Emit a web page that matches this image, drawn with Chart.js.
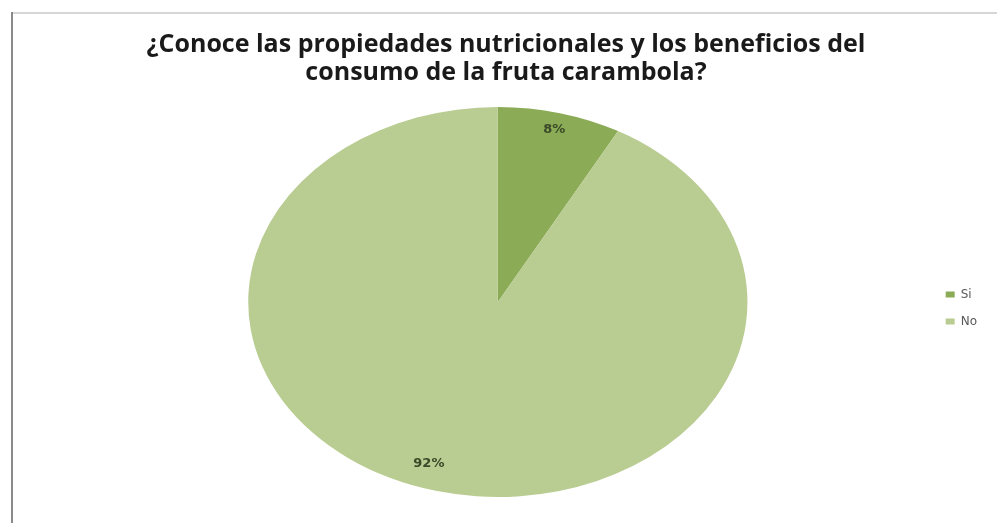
<!DOCTYPE html>
<html lang="es">
  <head>
    <meta charset="UTF-8" />
    <title>Carambola</title>
    <script src="https://cdn.jsdelivr.net/npm/chart.js"></script>
    <style>
      html, body { margin: 0; padding: 0; background: #ffffff; }
      #wrap { width: 997px; height: 523px; }
    </style>
  </head>
  <body>
    <div id="wrap"><canvas id="myChart"></canvas></div>
    <script>
      // datos
      const categorias = ["Si", "No"];
      const porcentajes = [8, 92];
      const colores = ["#8cab56", "#b9cc91"];
      const titulo = [
        "¿Conoce las propiedades nutricionales y los beneficios del",
        "consumo de la fruta carambola?",
      ];

      const stretchX = 1.28; // la torta de excel sale ovalada

      // marco gris del grafico original + pequeños corrimientos
      const marco = {
        id: "marco",
        afterLayout(chart) {
          chart.titleBlock.left -= 20;
          chart.titleBlock.right -= 20;
          chart.legend.top += 6;
          chart.legend.bottom += 6;
        },
        beforeDraw(chart) {
          const ctx = chart.ctx;
          ctx.save();
          ctx.strokeStyle = "#d6d6d6";
          ctx.lineWidth = 2;
          ctx.beginPath();
          ctx.moveTo(12, 13);
          ctx.lineTo(997, 13);
          ctx.stroke();
          ctx.strokeStyle = "#8a8a8a";
          ctx.beginPath();
          ctx.moveTo(12, 12);
          ctx.lineTo(12, 523);
          ctx.stroke();
          ctx.restore();
        },
      };

      // estirar horizontalmente
      const ovalo = {
        id: "ovalo",
        beforeDatasetsDraw(chart) {
          const arc = chart.getDatasetMeta(0).data[0];
          const ctx = chart.ctx;
          ctx.save();
          ctx.translate(arc.x, arc.y);
          ctx.scale(stretchX, 1);
          ctx.translate(-arc.x, -arc.y);
        },
        afterDatasetsDraw(chart) {
          chart.ctx.restore();
          // etiquetas de porcentaje
          const ctx = chart.ctx;
          const data = chart.data.datasets[0].data;
          ctx.save();
          ctx.font = "bold 13px 'DejaVu Sans'";
          ctx.fillStyle = "#3a4a28";
          ctx.textAlign = "center";
          ctx.textBaseline = "middle";
          chart.getDatasetMeta(0).data.forEach((arc, i) => {
            const mid = (arc.startAngle + arc.endAngle) / 2 + (i === 0 ? 0 : 0.07);
            const r = arc.outerRadius * (i === 0 ? 0.91 : 0.875);
            const x = arc.x + Math.cos(mid) * r * stretchX;
            const y = arc.y + Math.sin(mid) * r;
            ctx.fillText(data[i] + "%", x, y);
          });
          ctx.restore();
        },
      };

      new Chart(document.getElementById("myChart"), {
        type: "pie",
        data: {
          labels: categorias,
          datasets: [
            {
              data: porcentajes,
              backgroundColor: colores,
              borderWidth: 0,
            },
          ],
        },
        options: {
          responsive: true,
          maintainAspectRatio: false,
          animation: false,
          layout: { padding: { left: 65, right: 10, top: 0, bottom: 26 } },
          plugins: {
            title: {
              display: true,
              text: titulo,
              color: "#1a1a1a",
              font: { family: "Open Sans", size: 25, weight: "bold", lineHeight: 1.12 },
              padding: { top: 31, bottom: 20 },
            },
            legend: {
              position: "right",
              fullSize: false,
              labels: {
                boxWidth: 9,
                boxHeight: 6,
                padding: 15,
                color: "#595959",
                font: { family: "DejaVu Sans", size: 12 },
              },
            },
            tooltip: { enabled: false },
          },
        },
        plugins: [marco, ovalo],
      });
    </script>
  </body>
</html>
